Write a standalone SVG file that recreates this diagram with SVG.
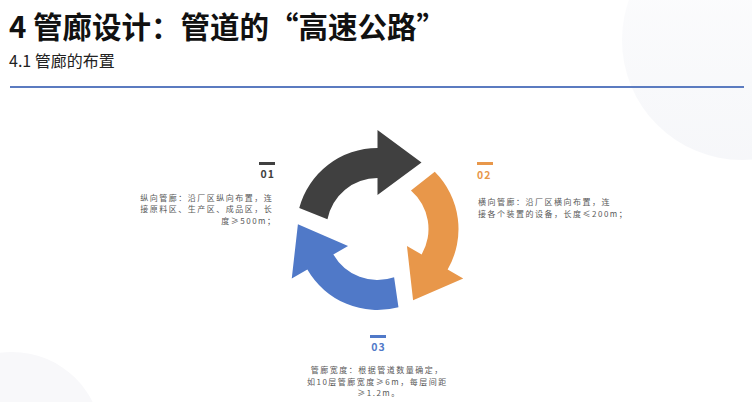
<svg xmlns="http://www.w3.org/2000/svg" width="752" height="402" viewBox="0 0 752 402">
  <defs>
    <linearGradient id="bgfade" x1="0" y1="0" x2="0" y2="1">
      <stop offset="0" stop-color="#f5f6f9" stop-opacity="0"/>
      <stop offset="0.4" stop-color="#f5f6f9" stop-opacity="0.5"/>
      <stop offset="1" stop-color="#f5f6f9" stop-opacity="0.9"/>
    </linearGradient>
    <path id="arc" d="M 299.26 208.04 A 81 81 0 0 1 377.5 148 L 377.5 130 L 421.5 162.5 L 377.5 195 L 377.5 178 A 51 51 0 0 0 327.44 219.27 Z"/>
  </defs>
  <style>
    .title { font-family: "Noto Sans CJK SC", "Liberation Sans", sans-serif; font-weight: 700; font-size: 29.5px; fill: #111111; }
    .sub { font-family: "Noto Sans CJK SC", "Liberation Sans", sans-serif; font-size: 16px; fill: #222222; }
    .num { font-family: "Noto Sans CJK SC", "Liberation Sans", sans-serif; font-weight: 700; font-size: 10.5px; letter-spacing: 1px; }
    .body { font-family: "Noto Sans CJK SC", "Liberation Sans", sans-serif; font-size: 8px; letter-spacing: 1.5px; fill: #595959; }
  </style>
  <rect x="0" y="0" width="752" height="402" fill="#ffffff"/>
  <circle cx="742" cy="40" r="120" fill="url(#bgfade)"/>
  <circle cx="12" cy="442" r="90" fill="#f8f8fa"/>

  <g id="header">
    <text class="title" x="9" y="38">4 管廊设计：管道的“高速公路”</text>
    <text class="sub" x="9" y="67">4.1 管廊的布置</text>
    <rect x="10" y="86" width="734" height="2" fill="#5b7bc0"/>
  </g>

  <g id="cycle">
    <g id="arrow-01"><use href="#arc" fill="#404040"/></g>
    <g id="arrow-02"><use href="#arc" fill="#e8974a" transform="rotate(120 377.5 229)"/></g>
    <g id="arrow-03"><use href="#arc" fill="#5079c8" transform="rotate(240 377.5 229)"/></g>
  </g>

  <g id="item-01">
    <rect x="259" y="162" width="16" height="3" fill="#404040"/>
    <text class="num" x="275" y="178" text-anchor="end" fill="#404040">01</text>
    <text class="body" text-anchor="end">
      <tspan x="276.5" y="200.5">纵向管廊：沿厂区纵向布置，连</tspan>
      <tspan x="276.5" y="212">接原料区、生产区、成品区，长</tspan>
      <tspan x="276.5" y="223.5">度≥500m；</tspan>
    </text>
  </g>

  <g id="item-02">
    <rect x="477" y="162" width="16" height="3" fill="#e8974a"/>
    <text class="num" x="477" y="178.5" fill="#e8974a">02</text>
    <text class="body">
      <tspan x="478" y="205">横向管廊：沿厂区横向布置，连</tspan>
      <tspan x="478" y="217">接各个装置的设备，长度≤200m；</tspan>
    </text>
  </g>

  <g id="item-03">
    <rect x="370" y="335" width="16" height="3" fill="#5079c8"/>
    <text class="num" x="378.5" y="351" text-anchor="middle" fill="#5079c8">03</text>
    <text class="body" text-anchor="middle">
      <tspan x="379" y="373">管廊宽度：根据管道数量确定，</tspan>
      <tspan x="379" y="384.5">如10层管廊宽度≥6m，每层间距</tspan>
      <tspan x="379" y="396">≥1.2m。</tspan>
    </text>
  </g>
</svg>
